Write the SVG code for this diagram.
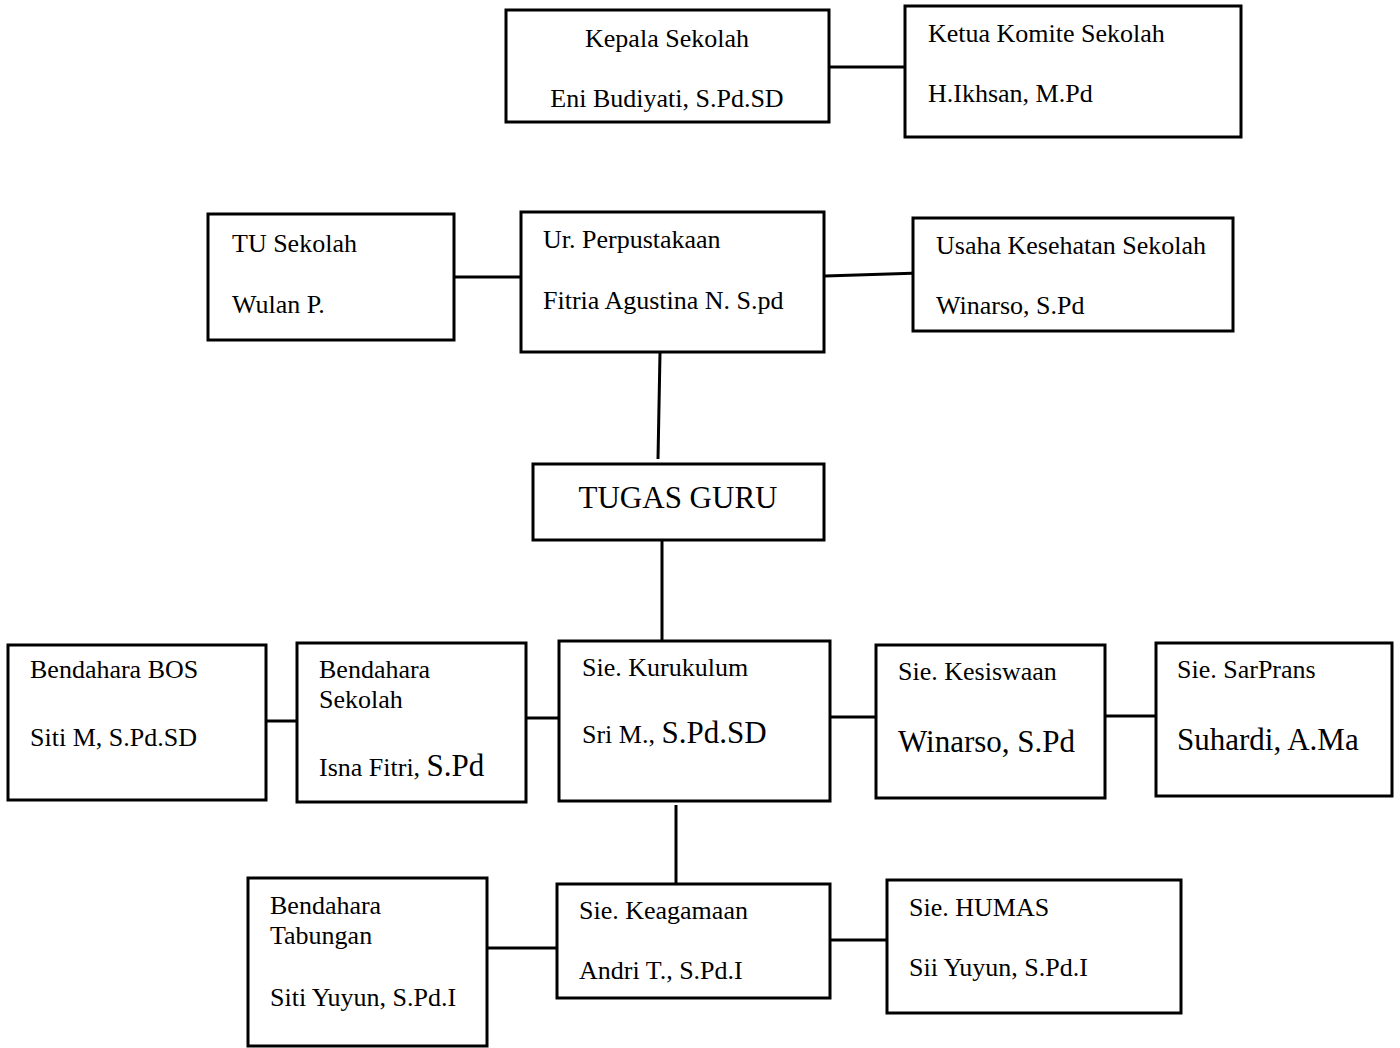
<svg xmlns="http://www.w3.org/2000/svg" width="1400" height="1048" viewBox="0 0 1400 1048">
<style>
.n rect{fill:#fff;stroke:#000;stroke-width:3}
#connectors line{stroke:#000;stroke-width:3}
text{font-family:"Liberation Serif","Times New Roman",serif;font-size:26px;fill:#000}
.b{font-size:31px}
.c{text-anchor:middle}
</style>
<rect x="0" y="0" width="1400" height="1048" fill="#fff"/>
<g id="connectors">
<line x1="830" y1="67" x2="905" y2="67"/>
<line x1="455" y1="277" x2="529" y2="277"/>
<line x1="825" y1="276" x2="920" y2="273"/>
<line x1="660" y1="353" x2="658" y2="459"/>
<line x1="662" y1="541" x2="662" y2="648"/>
<line x1="267" y1="721" x2="302" y2="721"/>
<line x1="527" y1="718" x2="560" y2="718"/>
<line x1="831" y1="717" x2="882" y2="717"/>
<line x1="1105" y1="716" x2="1160" y2="716"/>
<line x1="676" y1="805" x2="676" y2="885"/>
<line x1="488" y1="948" x2="561" y2="948"/>
<line x1="830" y1="940" x2="897" y2="940"/>
</g>
<g id="kepala" class="n"><rect x="506" y="10" width="323" height="112"/><text class="c" x="667" y="47">Kepala Sekolah</text><text class="c" x="667" y="107">Eni Budiyati, S.Pd.SD</text></g>
<g id="komite" class="n"><rect x="905" y="6" width="336" height="131"/><text x="928" y="42">Ketua Komite Sekolah</text><text x="928" y="102">H.Ikhsan, M.Pd</text></g>
<g id="tu" class="n"><rect x="208" y="214" width="246" height="126"/><text x="232" y="252">TU Sekolah</text><text x="232" y="313">Wulan P.</text></g>
<g id="perpus" class="n"><rect x="521" y="212" width="303" height="140"/><text x="543" y="248">Ur. Perpustakaan</text><text x="543" y="309">Fitria Agustina N. S.pd</text></g>
<g id="uks" class="n"><rect x="913" y="218" width="320" height="113"/><text x="936" y="254">Usaha Kesehatan Sekolah</text><text x="936" y="314">Winarso, S.Pd</text></g>
<g id="tugas" class="n"><rect x="533" y="464" width="291" height="76"/><text class="b c" x="678" y="508">TUGAS GURU</text></g>
<g id="bos" class="n"><rect x="8" y="645" width="258" height="155"/><text x="30" y="678">Bendahara BOS</text><text x="30" y="746">Siti M, S.Pd.SD</text></g>
<g id="bendsek" class="n"><rect x="297" y="643" width="229" height="159"/><text x="319" y="678">Bendahara</text><text x="319" y="708">Sekolah</text><text x="319" y="776">Isna Fitri, <tspan class="b">S.Pd</tspan></text></g>
<g id="kurikulum" class="n"><rect x="559" y="641" width="271" height="160"/><text x="582" y="676">Sie. Kurukulum</text><text x="582" y="743">Sri M., <tspan class="b">S.Pd.SD</tspan></text></g>
<g id="kesiswaan" class="n"><rect x="876" y="645" width="229" height="153"/><text x="898" y="680">Sie. Kesiswaan</text><text class="b" x="898" y="752">Winarso, S.Pd</text></g>
<g id="sarprans" class="n"><rect x="1156" y="643" width="236" height="153"/><text x="1177" y="678">Sie. SarPrans</text><text class="b" x="1177" y="750">Suhardi, A.Ma</text></g>
<g id="tabungan" class="n"><rect x="248" y="878" width="239" height="168"/><text x="270" y="914">Bendahara</text><text x="270" y="944">Tabungan</text><text x="270" y="1006">Siti Yuyun, S.Pd.I</text></g>
<g id="keagamaan" class="n"><rect x="557" y="884" width="273" height="114"/><text x="579" y="919">Sie. Keagamaan</text><text x="579" y="979">Andri T., S.Pd.I</text></g>
<g id="humas" class="n"><rect x="887" y="880" width="294" height="133"/><text x="909" y="916">Sie. HUMAS</text><text x="909" y="976">Sii Yuyun, S.Pd.I</text></g>
</svg>
